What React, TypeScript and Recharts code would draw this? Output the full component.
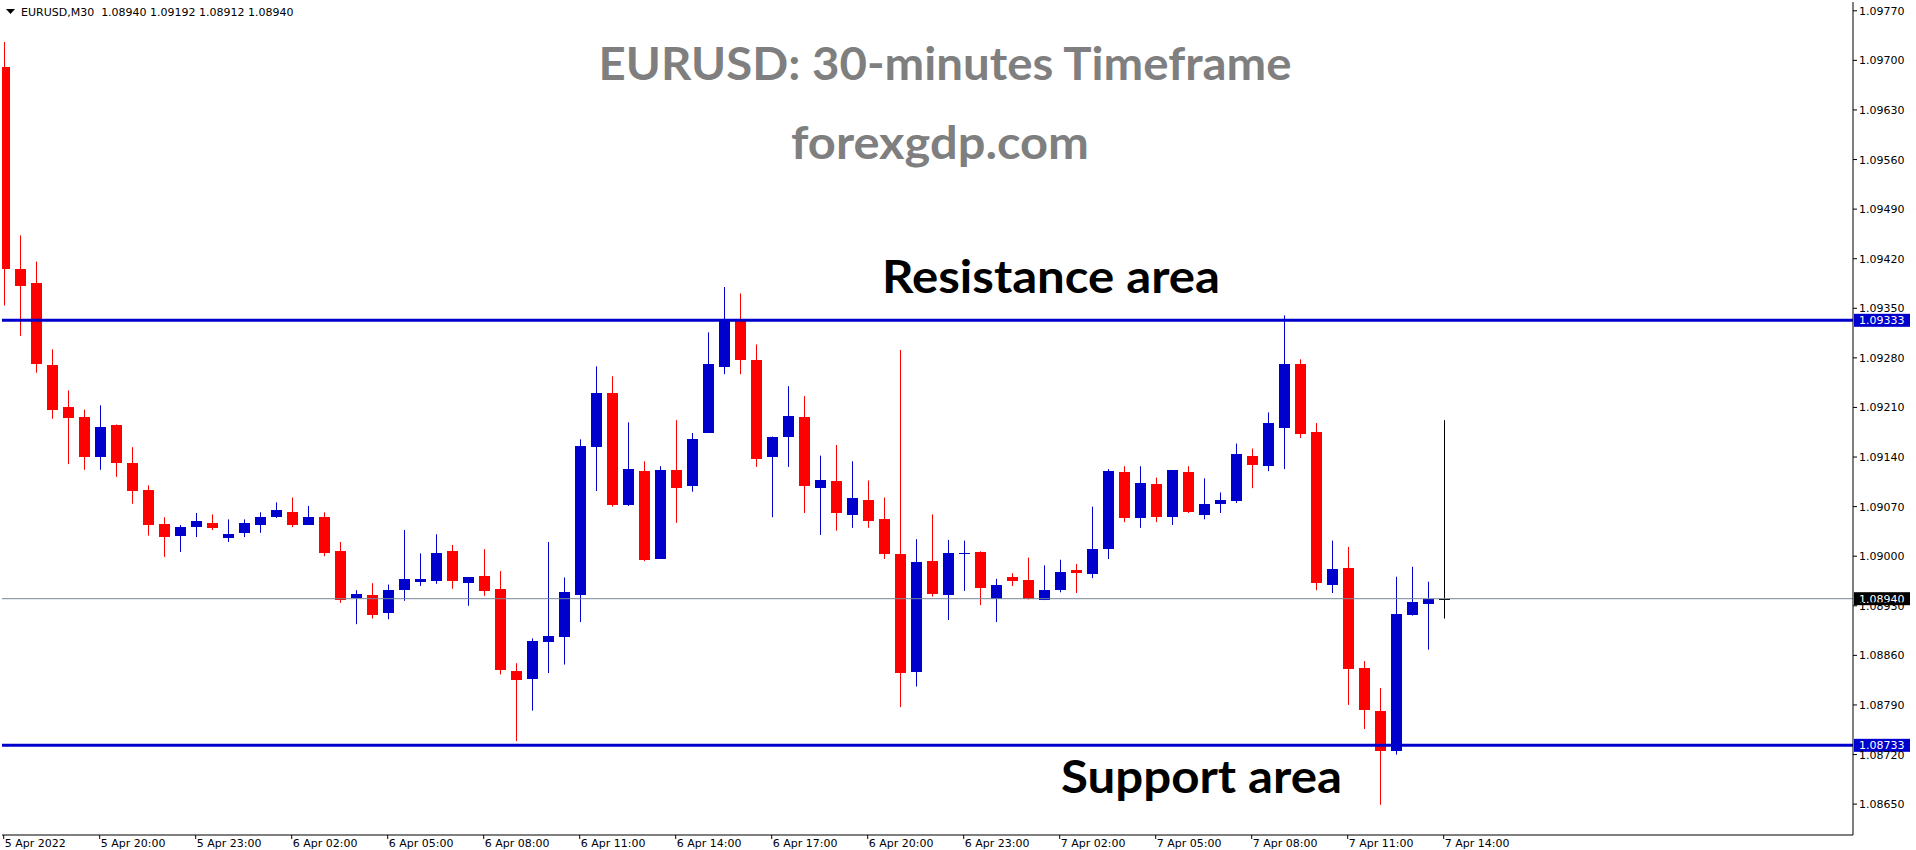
import { ComposedChart, Bar, XAxis, YAxis, ReferenceLine } from "recharts";

// EURUSD M30 candles, oldest first
const opens = [
    1.09690, 1.09405, 1.09385, 1.09270, 1.09210, 1.09196, 1.09140, 1.09185, 1.09131, 1.09093,
    1.09045, 1.09029, 1.09041, 1.09047, 1.09027, 1.09033, 1.09044, 1.09055, 1.09062, 1.09044,
    1.09056, 1.09007, 1.08941, 1.08945, 1.08919, 1.08952, 1.08964, 1.08965, 1.09007, 1.08961,
    1.08972, 1.08953, 1.08838, 1.08827, 1.08878, 1.08885, 1.08945, 1.09154, 1.09230, 1.09072,
    1.09120, 1.08996, 1.09121, 1.09098, 1.09174, 1.09267, 1.09333, 1.09277, 1.09140, 1.09168,
    1.09196, 1.09096, 1.09106, 1.09058, 1.09080, 1.09052, 1.09003, 1.08837, 1.08993, 1.08945,
    1.09002, 1.09006, 1.08939, 1.08970, 1.08966, 1.08938, 1.08952, 1.08980, 1.08975, 1.09010,
    1.09119, 1.09054, 1.09102, 1.09055, 1.09119, 1.09058, 1.09074, 1.09078, 1.09142, 1.09127,
    1.09181, 1.09272, 1.09175, 1.08960, 1.08983, 1.08842, 1.08781, 1.08725, 1.08916, 1.08933,
    1.08940,
];
const highs = [
    1.09726, 1.09453, 1.09416, 1.09292, 1.09234, 1.09207, 1.09213, 1.09186, 1.09154, 1.09100,
    1.09055, 1.09044, 1.09061, 1.09059, 1.09052, 1.09052, 1.09062, 1.09076, 1.09083, 1.09071,
    1.09062, 1.09020, 1.08952, 1.08962, 1.08960, 1.09037, 1.09004, 1.09031, 1.09016, 1.08970,
    1.09010, 1.08979, 1.08849, 1.08884, 1.09020, 1.08970, 1.09165, 1.09268, 1.09254, 1.09189,
    1.09134, 1.09127, 1.09192, 1.09174, 1.09316, 1.09380, 1.09371, 1.09299, 1.09169, 1.09240,
    1.09226, 1.09142, 1.09157, 1.09134, 1.09107, 1.09083, 1.09291, 1.09024, 1.09059, 1.09023,
    1.09022, 1.09007, 1.08968, 1.08976, 1.08998, 1.08987, 1.08995, 1.08989, 1.09070, 1.09123,
    1.09127, 1.09127, 1.09111, 1.09121, 1.09127, 1.09110, 1.09090, 1.09159, 1.09152, 1.09203,
    1.09340, 1.09278, 1.09188, 1.09022, 1.09013, 1.08852, 1.08814, 1.08971, 1.08985, 1.08964,
    1.09192,
];
const lows = [
    1.09354, 1.09311, 1.09259, 1.09194, 1.09130, 1.09122, 1.09122, 1.09112, 1.09074, 1.09029,
    1.08999, 1.09006, 1.09027, 1.09037, 1.09020, 1.09027, 1.09033, 1.09054, 1.09041, 1.09044,
    1.09000, 1.08934, 1.08904, 1.08912, 1.08911, 1.08937, 1.08958, 1.08961, 1.08954, 1.08930,
    1.08944, 1.08833, 1.08739, 1.08782, 1.08835, 1.08847, 1.08907, 1.09092, 1.09070, 1.09071,
    1.08993, 1.08996, 1.09047, 1.09091, 1.09174, 1.09257, 1.09257, 1.09126, 1.09055, 1.09126,
    1.09061, 1.09030, 1.09036, 1.09040, 1.09040, 1.08996, 1.08787, 1.08816, 1.08943, 1.08910,
    1.08951, 1.08931, 1.08907, 1.08958, 1.08939, 1.08938, 1.08949, 1.08948, 1.08969, 1.08996,
    1.09048, 1.09040, 1.09048, 1.09044, 1.09061, 1.09052, 1.09061, 1.09075, 1.09096, 1.09120,
    1.09123, 1.09167, 1.08952, 1.08948, 1.08790, 1.08756, 1.08649, 1.08720, 1.08916, 1.08868,
    1.08912,
];
const closes = [
    1.09405, 1.09381, 1.09270, 1.09206, 1.09195, 1.09139, 1.09182, 1.09132, 1.09091, 1.09044,
    1.09027, 1.09041, 1.09049, 1.09040, 1.09032, 1.09047, 1.09056, 1.09065, 1.09044, 1.09055,
    1.09005, 1.08938, 1.08946, 1.08917, 1.08952, 1.08968, 1.08968, 1.09004, 1.08964, 1.08970,
    1.08951, 1.08838, 1.08825, 1.08880, 1.08887, 1.08949, 1.09155, 1.09230, 1.09072, 1.09123,
    1.08995, 1.09121, 1.09096, 1.09165, 1.09271, 1.09333, 1.09277, 1.09137, 1.09168, 1.09198,
    1.09098, 1.09107, 1.09061, 1.09082, 1.09050, 1.09003, 1.08835, 1.08992, 1.08947, 1.09004,
    1.09004, 1.08955, 1.08959, 1.08965, 1.08939, 1.08952, 1.08977, 1.08976, 1.09010, 1.09120,
    1.09054, 1.09103, 1.09056, 1.09121, 1.09062, 1.09073, 1.09079, 1.09144, 1.09129, 1.09188,
    1.09272, 1.09173, 1.08962, 1.08982, 1.08840, 1.08782, 1.08725, 1.08918, 1.08935, 1.08940,
    1.08940,
];

// bar index of each time label (every 6 bars = 3 hours)
const timeTicks = [0, 6, 12, 18, 24, 30, 36, 42, 48, 54, 60, 66, 72, 78, 84, 90];
const timeLabels = [
    "5 Apr 2022", "5 Apr 20:00", "5 Apr 23:00", "6 Apr 02:00", "6 Apr 05:00", "6 Apr 08:00",
    "6 Apr 11:00", "6 Apr 14:00", "6 Apr 17:00", "6 Apr 20:00", "6 Apr 23:00", "7 Apr 02:00",
    "7 Apr 05:00", "7 Apr 08:00", "7 Apr 11:00", "7 Apr 14:00",
];

const priceTicks = [
    1.0865, 1.0872, 1.0879, 1.0886, 1.0893, 1.0900, 1.0907, 1.0914, 1.0921,
    1.0928, 1.0935, 1.0942, 1.0949, 1.0956, 1.0963, 1.0970, 1.0977,
];

const resistance = 1.09333;
const support = 1.08733;
const bid = 1.08940;

const BULL = "#0000CD";
const BEAR = "#FF0000";
const AXIS_FONT = "'DejaVu Sans', sans-serif";

const candles = opens.map((open, i) => ({
    i,
    open,
    high: highs[i],
    low: lows[i],
    close: closes[i],
    range: [lows[i], highs[i]],
}));

const Candle = (props: any) => {
    const { x, y, width, height, payload } = props;
    const { open, close, high, low } = payload;
    const k = high > low ? height / (high - low) : 0;
    const yOf = (v: number) => y + (high - v) * k;
    const color = close > open ? BULL : close < open ? BEAR : "#000000";
    const cx = Math.round(x + width / 2) + 0.5;
    const top = yOf(Math.max(open, close));
    const bottom = yOf(Math.min(open, close));
    return (
        <g>
            <line x1={cx} x2={cx} y1={y} y2={y + height} stroke={color} strokeWidth={1} />
            <rect x={Math.round(x)} y={Math.round(top)} width={width} height={Math.max(1, Math.round(bottom - top))} fill={color} />
        </g>
    );
};

const PriceTick = ({ x, y, payload }: any) => (
    <text x={x} y={y} dy={4} fontSize={11} fontFamily={AXIS_FONT} fill="#000">
        {Number(payload.value).toFixed(5)}
    </text>
);

const TimeTick = ({ x, y, payload }: any) => (
    <text x={x + 1} y={y} dy={8} fontSize={11} fontFamily={AXIS_FONT} fill="#000">
        {timeLabels[timeTicks.indexOf(payload.value)]}
    </text>
);

const priceBox = (fill: string, value: number) => (props: any) => {
    const { viewBox } = props;
    const bx = viewBox.x + viewBox.width + 1;
    const by = viewBox.y;
    return (
        <g>
            <rect x={bx} y={by - 6.5} width={56} height={13} fill={fill} />
            <text x={bx + 5} y={by + 4} fontSize={11} fontFamily={AXIS_FONT} fill="#fff">
                {value.toFixed(5)}
            </text>
        </g>
    );
};

const bigText = {
    fontFamily: "Lato, 'Open Sans', sans-serif",
    fontWeight: 700,
    fontSize: 46,
};

export default function App() {
    return (
        <div style={{ position: "absolute", left: 0, top: 0, width: 1916, height: 850, background: "#fff" }}>
            <ComposedChart width={1916} height={850} data={candles} margin={{ top: 2, right: 0, bottom: 0, left: 2 }}>
                <XAxis
                    dataKey="i"
                    type="number"
                    domain={[-0.106, 115.58]}
                    allowDataOverflow
                    ticks={timeTicks}
                    interval={0}
                    height={15}
                    tickSize={4}
                    tickMargin={0}
                    axisLine={{ stroke: "#000" }}
                    tickLine={{ stroke: "#000" }}
                    tick={<TimeTick />}
                />
                <XAxis xAxisId="top" orientation="top" type="number" domain={[0, 1]} height={0} tick={false} tickLine={false} axisLine={{ stroke: "#000" }} />
                <YAxis
                    orientation="right"
                    type="number"
                    domain={[1.086064, 1.097824]}
                    allowDataOverflow
                    ticks={priceTicks}
                    interval={0}
                    width={63}
                    tickSize={4}
                    tickMargin={2}
                    axisLine={{ stroke: "#000" }}
                    tickLine={{ stroke: "#000" }}
                    tick={<PriceTick />}
                />
                <YAxis yAxisId="frame" orientation="left" type="number" domain={[0, 1]} width={0} tick={false} tickLine={false} axisLine={{ stroke: "#000" }} />
                <ReferenceLine y={bid} stroke="#778899" strokeWidth={1} label={priceBox("#000000", bid)} />
                <Bar dataKey="range" barSize={11} shape={<Candle />} isAnimationActive={false} />
                <ReferenceLine y={resistance} stroke={BULL} strokeWidth={3} label={priceBox(BULL, resistance)} />
                <ReferenceLine y={support} stroke={BULL} strokeWidth={3} label={priceBox(BULL, support)} />
            </ComposedChart>
            <svg width={1916} height={850} style={{ position: "absolute", left: 0, top: 0, pointerEvents: "none" }}>
                <path d="M6 9 L15 9 L10.5 14 Z" fill="#000" />
                <text x={21} y={16} fontSize={11} fontFamily={AXIS_FONT} fill="#000" xmlSpace="preserve">
                    EURUSD,M30  1.08940 1.09192 1.08912 1.08940
                </text>
                <text x={945} y={80} textAnchor="middle" fill="#7f7f7f" textLength={693} lengthAdjust="spacingAndGlyphs" style={bigText}>
                    EURUSD: 30-minutes Timeframe
                </text>
                <text x={940} y={159} textAnchor="middle" fill="#7f7f7f" textLength={298} lengthAdjust="spacingAndGlyphs" style={bigText}>
                    forexgdp.com
                </text>
                <text x={882} y={293} fill="#000" textLength={338} lengthAdjust="spacingAndGlyphs" style={bigText}>
                    Resistance area
                </text>
                <text x={1061} y={793} fill="#000" textLength={281} lengthAdjust="spacingAndGlyphs" style={bigText}>
                    Support area
                </text>
            </svg>
        </div>
    );
}
